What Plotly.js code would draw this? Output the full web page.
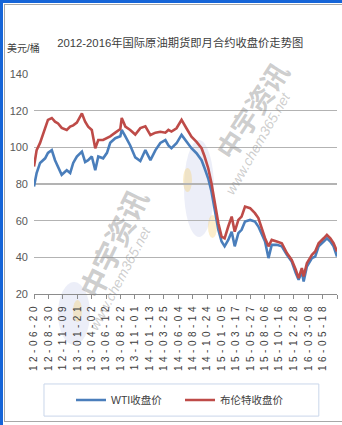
<!DOCTYPE html>
<html>
<head>
<meta charset="utf-8">
<script src="https://cdn.plot.ly/plotly-3.0.1.min.js"></script>
<style>
html,body{margin:0;padding:0;background:#fff;}
#frame{position:absolute;left:0;top:0;width:342px;height:425px;background:#fff;overflow:hidden;}
.blue-top{position:absolute;left:0;top:0;width:342px;height:3px;background:#1565d8;}
.blue-left{position:absolute;left:0;top:0;width:3px;height:425px;background:#1565d8;}
.gray-top{position:absolute;left:4px;top:4px;width:338px;height:1px;background:#a8a8a8;}
.gray-left{position:absolute;left:4px;top:4px;width:1px;height:418px;background:#a8a8a8;}
.gray-bottom{position:absolute;left:4px;top:421px;width:338px;height:1px;background:#a8a8a8;}
#chart{position:absolute;left:5px;top:5px;width:337px;height:415px;}
#chart .xtick text{letter-spacing:3.5px;}
</style>
</head>
<body>
<div id="frame">
  <div class="blue-top"></div>
  <div class="blue-left"></div>
  <div class="gray-top"></div>
  <div class="gray-left"></div>
  <div class="gray-bottom"></div>
  <div id="chart"></div>
</div>
<script>
// ---- data ----
var dates = ['2012-06-20','2012-07-03','2012-07-20','2012-08-14','2012-08-28','2012-09-16','2012-10-02','2012-10-17','2012-11-04','2012-11-29','2012-12-16','2012-12-31',
 '2013-01-18','2013-02-12','2013-02-28','2013-03-15','2013-04-02','2013-04-19','2013-05-04','2013-05-28','2013-06-16','2013-07-02','2013-07-27','2013-08-21','2013-08-28','2013-09-15','2013-10-09','2013-11-03','2013-11-28','2013-12-23',
 '2014-01-17','2014-02-11','2014-03-07','2014-04-01','2014-04-16','2014-05-01','2014-05-26','2014-06-20','2014-07-14','2014-08-08','2014-09-02','2014-09-27','2014-10-12','2014-10-30','2014-11-15','2014-11-30','2014-12-19',
 '2015-01-04','2015-01-19','2015-02-06','2015-02-23','2015-03-10','2015-03-28','2015-04-13','2015-04-30','2015-05-25','2015-06-18','2015-07-05','2015-07-22','2015-08-07','2015-08-24','2015-09-09','2015-10-04','2015-10-29','2015-11-23','2015-12-17',
 '2016-01-06','2016-01-20','2016-02-05','2016-02-14','2016-03-01','2016-03-26','2016-04-11','2016-04-28','2016-05-23','2016-06-08','2016-06-25','2016-07-11','2016-07-28'];

var wti = [78.6,86,91.5,94,97,98.5,93,89,85,87.5,86,91.5,
 95,97.7,92,93,95,87.5,95,94,97,102.5,105,106,109.5,106,101,94.5,92.5,98.5,
 93,98.5,102.4,104,101,99.5,102.2,106.8,103,99.5,96.8,93,88.6,83,75.9,66,55,
 48.6,46,49.5,54,46,53.2,55,59.5,60.4,59.5,56.8,52.3,48.6,39.6,46.8,46.8,46,41.4,37.7,
 31.4,27.8,32.3,26.8,35,39.6,40.4,46,48.6,50.4,48.6,46,40.4];

var brent = [89.5,98.5,102.4,111,115,116,114,113,110.6,109.5,111.3,112,
 113.5,118.5,114,111.3,109.5,99.5,104,104,105,106,108,110,116,111.3,109.5,107,110.5,111.5,
 106.7,108,108.5,108,109.5,108.6,110.4,115,110.4,105.8,103,99.5,95,88.6,80.4,71.3,58.6,
 51.3,50.4,56.8,62.2,54,60.4,62.2,67.7,66.8,64.1,61.4,55,50.4,46,49.5,48.6,47.7,42.3,38.6,
 33.2,28.7,34.1,29.6,36.8,41.4,43.2,47.7,50.4,52.3,50.4,47.7,43.2];

var xTickLabels = ['12-06-20','12-08-30','12-11-09','13-01-21','13-04-02','13-06-12','13-08-22','13-11-01',
 '14-01-13','14-03-25','14-06-04','14-08-14','14-10-24','15-01-05','15-03-17','15-05-27','15-08-06',
 '15-10-16','15-12-28','16-03-08','16-05-18','16-07-28'];

var seriesNames = ['WTI收盘价','布伦特收盘价'];
var titleText = '2012-2016年国际原油期货即月合约收盘价走势图';
var unitText = '美元/桶';
var watermarkName = '中宇资讯';
var watermarkSite = 'www.chem365.net';

// ---- build chart ----
var xTickVals = xTickLabels.map(function(s){ return '20' + s; });
var fam = 'Liberation Sans Narrow, Liberation Sans, Noto Sans CJK SC, sans-serif';
var wmColor = 'rgba(135,135,135,0.42)';

var traces = [
  {x: dates, y: wti, name: seriesNames[0], type: 'scatter', mode: 'lines', legend: 'legend',
   line: {color: '#4a7ebb', width: 2.6}},
  {x: dates, y: brent, name: seriesNames[1], type: 'scatter', mode: 'lines', legend: 'legend2',
   line: {color: '#be4b48', width: 2.6}}
];

function px2paperX(p){ return (p - 34) / 303; }
function px2paperY(p){ return (294 - p) / 220; }
function ell(x0, x1, y0, y1, col){
  return {type: 'circle', xref: 'paper', yref: 'paper', layer: 'below',
          x0: px2paperX(x0), x1: px2paperX(x1), y0: px2paperY(y1), y1: px2paperY(y0),
          line: {width: 0}, fillcolor: col};
}
function legendAt(px){
  return {orientation: 'h', x: px2paperX(px), xanchor: 'left', y: px2paperY(400), yanchor: 'middle',
          bgcolor: 'rgba(0,0,0,0)', borderwidth: 0, font: {size: 10.5, color: '#404040', family: fam},
          itemwidth: 30};
}

var layout = {
  width: 337, height: 415,
  margin: {l: 29, r: 5, t: 69, b: 126},
  paper_bgcolor: 'rgba(0,0,0,0)', plot_bgcolor: 'rgba(0,0,0,0)',
  font: {family: fam, color: '#595959', size: 11},
  title: {text: titleText, x: 0.52, xanchor: 'center', y: 0.908, yanchor: 'middle',
          font: {family: fam, size: 11.3, color: '#404040'}},
  showlegend: true,
  legend: legendAt(71),
  legend2: legendAt(180),
  xaxis: {type: 'date', range: ['2012-06-20', '2016-07-28'],
          tickmode: 'array', tickvals: xTickVals, ticktext: xTickLabels, tickangle: -90,
          ticks: 'outside', ticklen: 4, tickcolor: '#8c8c8c', tickwidth: 1,
          showline: true, linecolor: '#8c8c8c', linewidth: 1,
          showgrid: false, zeroline: false, fixedrange: true,
          tickfont: {size: 10, color: '#404040', family: fam}},
  yaxis: {range: [20, 140], dtick: 20, tick0: 20, showgrid: true, gridcolor: '#b3b3b3', gridwidth: 1.3,
          zeroline: false, showline: false, ticks: '', fixedrange: true, ticklabelstandoff: 5,
          tickfont: {size: 11, color: '#595959', family: fam}},
  shapes: [
    {type: 'rect', xref: 'paper', yref: 'paper', x0: 0.033, x1: 0.94, y0: -0.409, y1: -0.555,
     line: {color: '#c9d6ea', width: 1}, fillcolor: 'rgba(0,0,0,0)'},
    ell(184, 214, 140, 237, 'rgba(110,125,200,0.13)'),
    ell(183, 192, 168, 192, 'rgba(245,205,110,0.35)'),
    ell(208, 217, 215, 238, 'rgba(245,205,110,0.35)'),
    ell(58, 90, 282, 345, 'rgba(110,125,200,0.13)'),
    ell(73, 82, 300, 322, 'rgba(245,205,110,0.35)')
  ],
  annotations: [
    {text: unitText, xref: 'paper', yref: 'paper', x: -0.036, y: 1.118, showarrow: false,
     xanchor: 'center', yanchor: 'middle', font: {size: 10, color: '#404040', family: fam}},
    {text: '<b>' + watermarkName + '</b>', xref: 'paper', yref: 'paper', x: px2paperX(251), y: px2paperY(110),
     xanchor: 'center', yanchor: 'middle', showarrow: false,
     textangle: -57, font: {size: 27, color: wmColor, family: 'Noto Sans CJK SC'}},
    {text: '<i>' + watermarkSite + '</i>', xref: 'paper', yref: 'paper', x: px2paperX(258), y: px2paperY(143),
     xanchor: 'center', yanchor: 'middle', showarrow: false,
     textangle: -60, font: {size: 14, color: wmColor, family: 'Liberation Sans'}},
    {text: '<b>' + watermarkName + '</b>', xref: 'paper', yref: 'paper', x: px2paperX(112), y: px2paperY(243),
     xanchor: 'center', yanchor: 'middle', showarrow: false,
     textangle: -64, font: {size: 29, color: wmColor, family: 'Noto Sans CJK SC'}},
    {text: '<i>' + watermarkSite + '</i>', xref: 'paper', yref: 'paper', x: px2paperX(120), y: px2paperY(278),
     xanchor: 'center', yanchor: 'middle', showarrow: false,
     textangle: -62, font: {size: 14, color: wmColor, family: 'Liberation Sans'}}
  ]
};

Plotly.newPlot('chart', traces, layout, {staticPlot: true, displayModeBar: false});
</script>
</body>
</html>
